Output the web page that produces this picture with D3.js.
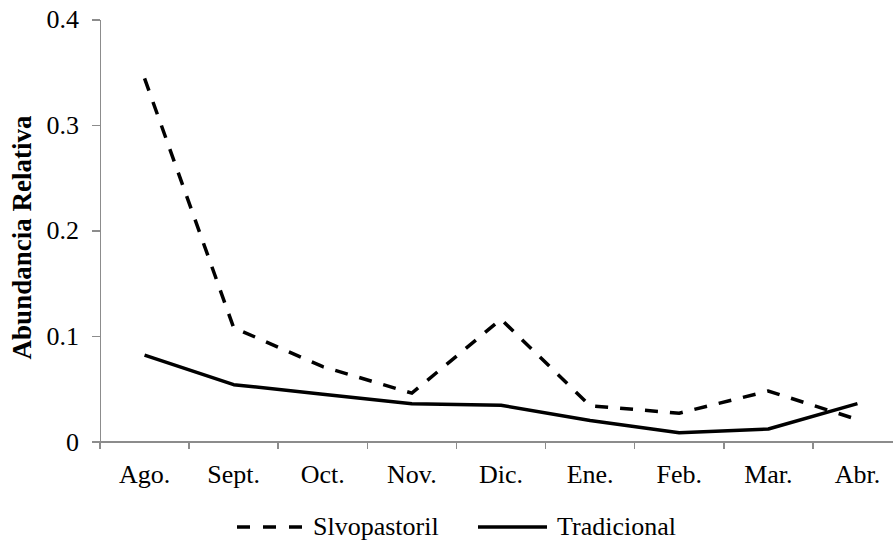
<html lang="en">
<head>
    <meta charset="utf-8">
    <title>Abundancia Relativa</title>
    <script type="text/javascript" src="https://cdn.jsdelivr.net/npm/d3@7"></script>
    <style>
        body { margin: 0; background: white; }
        svg text { font-family: "Times New Roman", "Liberation Serif", serif; fill: black; }
        .axis path, .axis line { stroke: #8c8c8c; stroke-width: 1.5; shape-rendering: crispEdges; }
        .axis text { font-size: 26px; }
    </style>
</head>
<body>
    <script type="text/javascript">
        var months = ["Ago.", "Sept.", "Oct.", "Nov.", "Dic.", "Ene.", "Feb.", "Mar.", "Abr."];
        var silvopastoril = [0.344, 0.108, 0.071, 0.046, 0.116, 0.034, 0.027, 0.048, 0.021];
        var tradicional = [0.082, 0.054, 0.045, 0.036, 0.0345, 0.020, 0.0085, 0.012, 0.036];
        var yTicks = [0, 0.1, 0.2, 0.3, 0.4];
        var seriesNames = ["Slvopastoril", "Tradicional"];

        var w = 893;
        var h = 542;

        var svg = d3.select("body")
            .append("svg")
            .attr("width", w)
            .attr("height", h)
            .attr("font-family", "Liberation Serif");

        var xScale = d3.scaleBand()
            .domain(months)
            .range([100, 902]);

        var yScale = d3.scaleLinear()
            .domain([0, 0.4])
            .range([441.7, 19.3]);

        // y axis
        var yAxis = d3.axisLeft(yScale)
            .tickValues(yTicks)
            .tickSize(8)
            .tickSizeOuter(0)
            .tickPadding(13)
            .tickFormat(function(d) { return d === 0 ? "0" : d3.format(".1f")(d); });

        svg.append("g")
            .attr("class", "axis")
            .attr("transform", "translate(100,0)")
            .call(yAxis)
            .attr("font-family", "Liberation Serif");

        // x axis: labels at band centres, ticks at band edges
        var xAxis = d3.axisBottom(xScale)
            .tickSize(0)
            .tickSizeOuter(0);

        var xAxisObject = svg.append("g")
            .attr("class", "axis")
            .attr("transform", "translate(0,441.7)")
            .call(xAxis)
            .attr("font-family", "Liberation Serif");

        xAxisObject.selectAll("text")
            .attr("y", 41)
            .attr("dy", null);

        xAxisObject.selectAll(".edge")
            .data(months)
            .enter()
            .append("line")
            .attr("class", "edge")
            .attr("x1", function(d) { return xScale(d); })
            .attr("x2", function(d) { return xScale(d); })
            .attr("y1", 0)
            .attr("y2", 7);

        // lines
        var lineFunction = d3.line()
            .x(function(d, i) { return xScale(months[i]) + xScale.bandwidth() / 2; })
            .y(function(d) { return yScale(d); });

        svg.append("path")
            .attr("d", lineFunction(silvopastoril))
            .attr("fill", "none")
            .attr("stroke", "black")
            .attr("stroke-width", 3.5)
            .attr("stroke-dasharray", "13,12");

        svg.append("path")
            .attr("d", lineFunction(tradicional))
            .attr("fill", "none")
            .attr("stroke", "black")
            .attr("stroke-width", 3.5)
            .attr("stroke-linejoin", "round");

        // y title
        svg.append("text")
            .attr("transform", "translate(31,237.5) rotate(-90)")
            .attr("text-anchor", "middle")
            .attr("font-size", "27px")
            .attr("font-weight", "bold")
            .text("Abundancia Relativa");

        // legend
        var legend = svg.append("g");

        legend.append("line")
            .attr("x1", 237).attr("x2", 302)
            .attr("y1", 527).attr("y2", 527)
            .attr("stroke", "black")
            .attr("stroke-width", 3.5)
            .attr("stroke-dasharray", "13,13");

        legend.append("text")
            .attr("x", 313).attr("y", 535)
            .attr("font-size", "26px")
            .text(seriesNames[0]);

        legend.append("line")
            .attr("x1", 478).attr("x2", 547)
            .attr("y1", 527).attr("y2", 527)
            .attr("stroke", "black")
            .attr("stroke-width", 3.5);

        legend.append("text")
            .attr("x", 557).attr("y", 535)
            .attr("font-size", "26px")
            .text(seriesNames[1]);
    </script>
</body>
</html>
